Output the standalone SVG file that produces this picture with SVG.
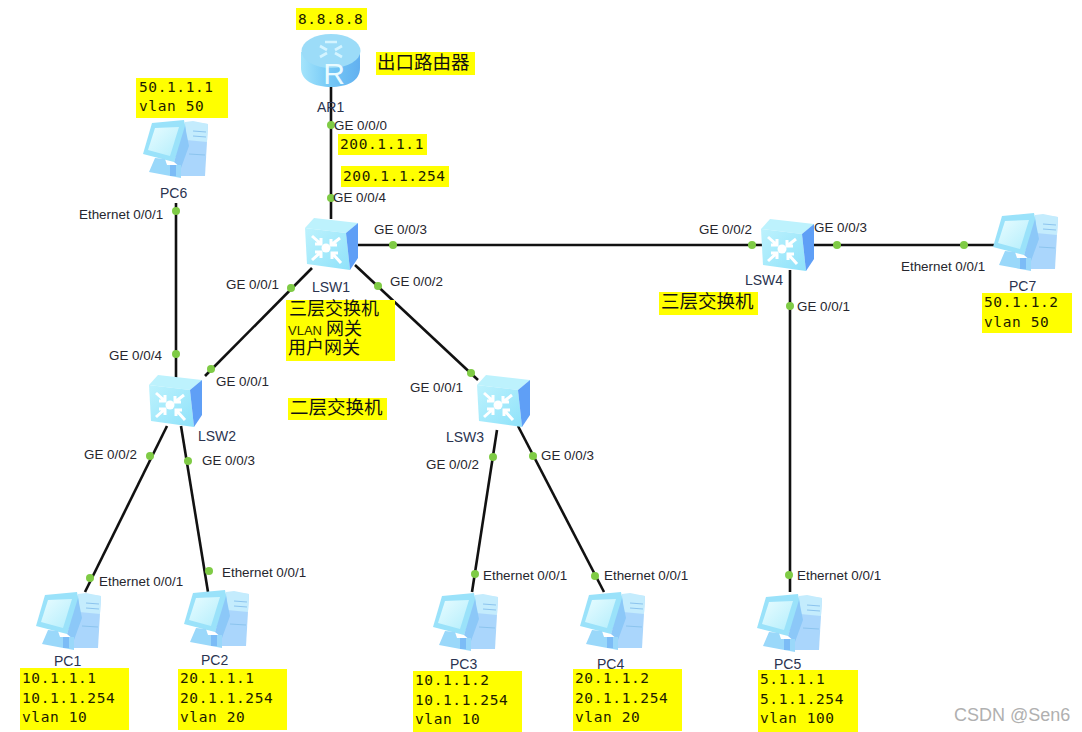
<svg xmlns="http://www.w3.org/2000/svg" width="1082" height="732" viewBox="0 0 1082 732">
<style>
text{font-family:"Liberation Sans",Arial,"Noto Sans CJK SC",sans-serif}
.l{font-size:13.4px;fill:#26262e}
.n{font-size:14px;fill:#2a3350}
.m{font-family:"DejaVu Sans Mono","Liberation Mono",monospace;font-size:14.5px;letter-spacing:.6px;fill:#1c1c00}
.c{font-size:18.5px;fill:#111}
.y{fill:#ffff00}
.w{stroke:#111;stroke-width:2.6;fill:none}
.d{fill:#7fcb45}
</style>
<defs>
<linearGradient id="sf" x1="0" y1="0" x2="1" y2="1"><stop offset="0" stop-color="#bdf2fd"/><stop offset="1" stop-color="#8fe2fa"/></linearGradient>
<linearGradient id="rt" x1="0" y1="0" x2="1" y2="0"><stop offset="0" stop-color="#a4e4fb"/><stop offset=".5" stop-color="#74c8f6"/><stop offset="1" stop-color="#62b0f0"/></linearGradient>
<linearGradient id="sc" x1="0" y1="0" x2="1" y2="1"><stop offset="0" stop-color="#e8fcff"/><stop offset="1" stop-color="#b4eefc"/></linearGradient>
<g id="sw">
<path d="M1 10 L10 0 L54 5 L42 15 Z" fill="#bdf2fd"/>
<path d="M1 10 L42 15 L46 52 L3 46 Z" fill="url(#sf)"/>
<path d="M42 15 L54 5 L54 40 L46 52 Z" fill="#5f9ff6"/>
<g stroke="#fff" stroke-width="3" fill="none">
<path d="M8 18 L17 26 M17 20 V26 H11"/><path d="M36 20 L27 27 M27 21 V27 H33"/>
<path d="M8 42 L17 34 M17 40 V34 H11"/><path d="M37 45 L28 35 M28 41 V35 H34"/>
</g>
<circle cx="22" cy="30" r="4.5" fill="#fff"/>
</g>
<g id="pc">
<path d="M42 4 L65 6 L62 58 L37 58 Z" fill="#aad6fc"/>
<path d="M42 4 L50 3 L65 6 L64 24 L43 22 Z" fill="#c4ecfd"/>
<path d="M9 5 L41 2 L43 12 L31 44 L0 36 Z" fill="#9ae2fa"/>
<path d="M12 10 L36 9 L27 38 L5 32 Z" fill="url(#sc)"/>
<path d="M31 44 L42 8 L46 28 L38 50 Z" fill="#8cc8f8"/>
<path d="M12 40 L22 41 L24 47 L38 47 L38 60 L6 54 Z" fill="#9ad8fa"/>
<path d="M27 47 H33 V58 H27 Z" fill="#7cbcf6"/>
<path d="M50 13 L63 14 M50 18 L63 19 M46 36 L62 37" stroke="#8cc4ee" stroke-width="1.2"/>
</g>
</defs>
<rect width="1082" height="732" fill="#fff"/>

<g id="connectors" class="w">
<path d="M331 86 V219"/>
<path d="M176 203 V378"/>
<path d="M312 268 L205 376"/>
<path d="M355 265 L478 380"/>
<path d="M358 245 H762"/>
<path d="M812 245 H996"/>
<path d="M790 270 V592"/>
<path d="M167 426 L85 592"/>
<path d="M181 426 L208 592"/>
<path d="M497 430 L472 592"/>
<path d="M518 426 L604 592"/>
</g>
<g id="ports">
<g class="d">
<circle cx="331" cy="125" r="4"/><circle cx="331" cy="198" r="4"/>
<circle cx="176" cy="211" r="4"/><circle cx="176" cy="354" r="4"/>
<circle cx="291" cy="288" r="4"/><circle cx="211" cy="369" r="4"/>
<circle cx="378" cy="286" r="4"/><circle cx="471" cy="373" r="4"/>
<circle cx="393" cy="245" r="4"/><circle cx="752" cy="245" r="4"/>
<circle cx="837" cy="245" r="4"/><circle cx="964" cy="245" r="4"/>
<circle cx="790" cy="306" r="4"/><circle cx="789" cy="575" r="4"/>
<circle cx="150" cy="456" r="4"/><circle cx="90" cy="578" r="4"/>
<circle cx="188" cy="461" r="4"/><circle cx="209" cy="571" r="4"/>
<circle cx="493" cy="457" r="4"/><circle cx="475" cy="574" r="4"/>
<circle cx="533" cy="456" r="4"/><circle cx="595" cy="576" r="4"/>
</g>
<g class="l">
<text x="334" y="130">GE 0/0/0</text><text x="333" y="202">GE 0/0/4</text>
<text x="79" y="219">Ethernet 0/0/1</text><text x="109" y="360">GE 0/0/4</text>
<text x="226" y="289">GE 0/0/1</text><text x="216" y="386">GE 0/0/1</text>
<text x="390" y="286">GE 0/0/2</text><text x="410" y="392">GE 0/0/1</text>
<text x="374" y="234">GE 0/0/3</text><text x="699" y="234">GE 0/0/2</text>
<text x="814" y="232">GE 0/0/3</text><text x="901" y="271">Ethernet 0/0/1</text>
<text x="797" y="311">GE 0/0/1</text><text x="797" y="580">Ethernet 0/0/1</text>
<text x="84" y="459">GE 0/0/2</text><text x="99" y="586">Ethernet 0/0/1</text>
<text x="202" y="465">GE 0/0/3</text><text x="222" y="577">Ethernet 0/0/1</text>
<text x="426" y="469">GE 0/0/2</text><text x="483" y="580">Ethernet 0/0/1</text>
<text x="541" y="460">GE 0/0/3</text><text x="604" y="580">Ethernet 0/0/1</text>
</g>
</g>

<g id="AR1">
<path d="M301 52 V68 C301 81 315 87 331 87 C347 87 360 81 360 68 V52 Z" fill="url(#rt)"/>
<ellipse cx="331" cy="51" rx="29.5" ry="17" fill="#9cdcf8"/>
<path d="M320 46 L327 50 M342 46 L335 50 M320 57 L327 53 M342 57 L335 53 M325 42 H337" stroke="#d4f4ff" stroke-width="2.6" fill="none"/>
<text x="334" y="84" text-anchor="middle" font-size="30" fill="#e9fbff">R</text>
<text class="n" x="317" y="112">AR1</text>
</g>
<g id="LSW1"><use href="#sw" x="304" y="218"/><text class="n" x="312" y="292">LSW1</text></g>
<g id="LSW2"><use href="#sw" x="148" y="375"/><text class="n" x="198" y="441">LSW2</text></g>
<g id="LSW3"><use href="#sw" x="476" y="375"/><text class="n" x="446" y="442">LSW3</text></g>
<g id="LSW4"><use href="#sw" x="760" y="219"/><text class="n" x="745" y="285">LSW4</text></g>
<g id="PC1"><use href="#pc" x="36" y="590"/><text class="n" x="54" y="666">PC1</text></g>
<g id="PC2"><use href="#pc" x="184" y="588"/><text class="n" x="201" y="665">PC2</text></g>
<g id="PC3"><use href="#pc" x="433" y="591"/><text class="n" x="450" y="669">PC3</text></g>
<g id="PC4"><use href="#pc" x="580" y="590"/><text class="n" x="597" y="669">PC4</text></g>
<g id="PC5"><use href="#pc" x="757" y="592"/><text class="n" x="774" y="669">PC5</text></g>
<g id="PC6"><use href="#pc" x="143" y="118"/><text class="n" x="160" y="198">PC6</text></g>
<g id="PC7"><use href="#pc" x="993" y="211"/><text class="n" x="1009" y="291">PC7</text></g>

<g id="notes">
<rect class="y" x="296" y="8" width="71" height="22"/><text class="m" x="298" y="24">8.8.8.8</text>
<rect class="y" x="376" y="52" width="99" height="23"/><text class="c" x="377" y="69">出口路由器</text>
<rect class="y" x="338" y="134" width="89" height="21"/><text class="m" x="340" y="149">200.1.1.1</text>
<rect class="y" x="341" y="166" width="108" height="21"/><text class="m" x="343" y="181">200.1.1.254</text>
<rect class="y" x="136" y="78" width="92" height="40"/><text class="m" x="139" y="92">50.1.1.1</text><text class="m" x="139" y="111">vlan 50</text>
<rect class="y" x="286" y="300" width="109" height="61"/>
<text x="289" y="315" font-size="18" fill="#111">三层交换机</text><text x="288" y="335" font-size="13" fill="#333000">VLAN</text><text x="326" y="335" font-size="18" fill="#111">网关</text><text x="288" y="354" font-size="18" fill="#111">用户网关</text>
<rect class="y" x="288" y="398" width="99" height="22"/><text class="c" x="290" y="414">二层交换机</text>
<rect class="y" x="659" y="292" width="99" height="23"/><text class="c" x="661" y="308">三层交换机</text>
<rect class="y" x="982" y="293" width="90" height="40"/><text class="m" x="984" y="307">50.1.1.2</text><text class="m" x="984" y="327">vlan 50</text>
<rect class="y" x="20" y="668" width="109" height="62"/><text class="m" x="22" y="683">10.1.1.1</text><text class="m" x="22" y="703">10.1.1.254</text><text class="m" x="22" y="722">vlan 10</text>
<rect class="y" x="178" y="669" width="109" height="61"/><text class="m" x="180" y="683">20.1.1.1</text><text class="m" x="180" y="703">20.1.1.254</text><text class="m" x="180" y="722">vlan 20</text>
<rect class="y" x="413" y="671" width="109" height="61"/><text class="m" x="415" y="685">10.1.1.2</text><text class="m" x="415" y="705">10.1.1.254</text><text class="m" x="415" y="724">vlan 10</text>
<rect class="y" x="573" y="669" width="109" height="62"/><text class="m" x="575" y="683">20.1.1.2</text><text class="m" x="575" y="703">20.1.1.254</text><text class="m" x="575" y="722">vlan 20</text>
<rect class="y" x="758" y="670" width="100" height="62"/><text class="m" x="760" y="684">5.1.1.1</text><text class="m" x="760" y="704">5.1.1.254</text><text class="m" x="760" y="723">vlan 100</text>
</g>
<text x="954" y="721" font-size="18" fill="#b0b0b0">CSDN @Sen6</text>
</svg>
